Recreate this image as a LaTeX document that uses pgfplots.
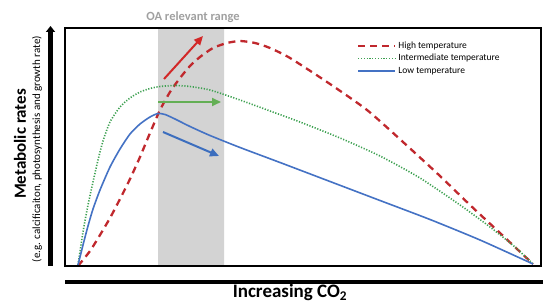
\documentclass[border=0pt]{standalone}
\usepackage{pgfplots}
\pgfplotsset{compat=1.18}
\usepackage{fontspec}
\setmainfont{Carlito}
\usetikzlibrary{arrows.meta}
\definecolor{hired}{RGB}{192,40,45}
\definecolor{midgreen}{RGB}{60,160,80}
\definecolor{lowblue}{RGB}{68,114,196}
\definecolor{arrred}{RGB}{210,40,40}
\definecolor{arrgreen}{RGB}{100,175,85}
\definecolor{arrblue}{RGB}{60,110,190}
\definecolor{band}{RGB}{211,211,211}
\definecolor{oagray}{RGB}{160,160,160}
\begin{document}
\begin{tikzpicture}[x=1pt,y=1pt]
\path[use as bounding box] (0,0) rectangle (543,304);
\begin{axis}[
  at={(65pt,38pt)}, anchor=south west,
  scale only axis, width=476pt, height=238pt,
  xmin=65, xmax=541, ymin=28, ymax=266, y dir=reverse,
  xtick=\empty, ytick=\empty,
  axis line style={line width=1.3pt},
  axis on top,
  legend style={at={(0.607,0.96)}, anchor=north west, draw=none, fill=none,
    font=\fontsize{9.5}{11}\selectfont, row sep=0.5pt, cells={anchor=west}},
  legend image code/.code={\draw[#1] (0pt,0pt) -- (37pt,0pt);},
]
\addplot[fill=band, draw=none, forget plot] coordinates {(158,28) (224,28) (224,266) (158,266) (158,28)};
% High temperature
\addplot[hired, line width=2.3pt, dash pattern=on 7pt off 5pt, smooth, tension=0.4] coordinates {
(78,266) (90,251) (100,235) (110,218) (120,199) (130,179) (140,157) (150,133) (160,110) (170,92) (180,78) (190,66) (200,57) (213,48) (227,43) (240,41) (255,43) (270,48) (290,58) (327,82) (367,110) (403,142) (440,176) (470,205) (500,233) (533,264)};
\addlegendentry{High temperature}
% Intermediate
\addplot[midgreen, line width=1.6pt, dash pattern=on 1.2pt off 1.6pt, smooth, tension=0.4] coordinates {
(78,265) (83,232) (88,205) (93,182) (98,160) (103,141) (110,122) (120,107) (130,98) (140,92) (150,88.5) (160,86.5) (175,85.5) (190,86.5) (210,90) (240,100) (270,111) (300,122) (340,138) (380,156) (420,178) (460,205) (490,227) (515,247) (533,264)};
\addlegendentry{Intermediate temperature}
% Low
\addplot[lowblue, line width=1.6pt, smooth, tension=0.4] coordinates {
(78,265) (83,245) (88,226) (93,209) (100,190) (110,167) (120,149) (130,134) (140,124) (150,117) (158,113.5) (165,114.5) (175,119) (190,126.5) (210,135.5) (240,147.5) (280,162.5) (330,181.5) (380,200.5) (430,219.5) (480,240) (533,264)};
\addlegendentry{Low temperature}
% arrows
\addplot[arrred, line width=2pt, -{Triangle[length=9pt,width=8pt]}, forget plot] coordinates {(164,79) (203,36)};
\addplot[arrgreen, line width=2pt, -{Triangle[length=9pt,width=8pt]}, forget plot] coordinates {(158,102) (221,102)};
\addplot[arrblue, line width=2pt, -{Triangle[length=9pt,width=8pt]}, forget plot] coordinates {(163,132) (219,156)};
\end{axis}
\draw[line width=5pt, -{Triangle[length=6pt,width=9pt]}] (50.5,38) -- (50.5,278);
\draw[line width=4.5pt] (65,22) -- (543,22);
\node[rotate=90, font=\bfseries\fontsize{17}{20}\selectfont] at (20,160) {Metabolic rates};
\node[rotate=90, font=\fontsize{11}{13}\selectfont] at (37,155) {(e.g. calcificaiton, photosynthesis and growth rate)};
\node[font=\bfseries\fontsize{19}{22}\selectfont, anchor=base] at (290,6) {Increasing CO\textsubscript{2}};
\node[font=\bfseries\fontsize{12.5}{15}\selectfont, text=oagray] at (193,287) {OA relevant range};
\end{tikzpicture}
\end{document}
